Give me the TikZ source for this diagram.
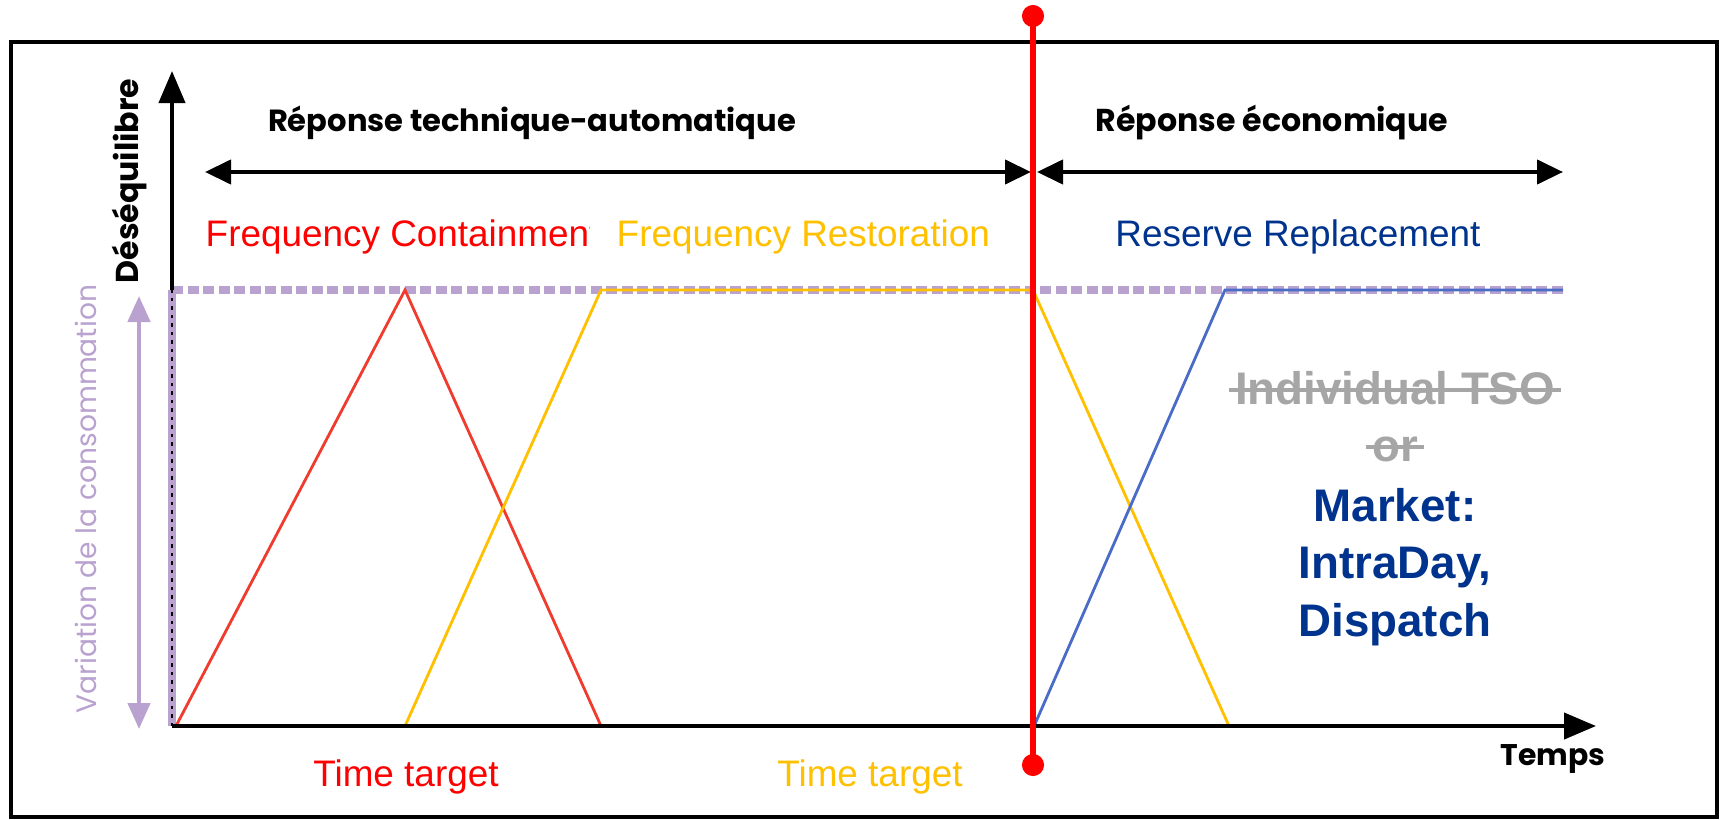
\documentclass[tikz,border=0pt]{standalone}
\usepackage{fontspec}
\setmainfont{Liberation Sans}
\newfontfamily\geofont{Poppins}
\usetikzlibrary{arrows.meta}

\definecolor{fcred}{HTML}{FF0000}
\definecolor{fcline}{HTML}{F03C2E}
\definecolor{fryellow}{HTML}{FFC000}
\definecolor{rrnavy}{HTML}{00338D}
\definecolor{rrblue}{HTML}{4A6BC6}
\definecolor{lilac}{HTML}{B9A2D0}
\definecolor{tsogray}{HTML}{A6A6A6}

\tikzset{
  axis/.style={line width=1.2pt, -{Triangle[width=2.6mm,length=3.2mm]}},
  span/.style={line width=1.2pt, {Triangle[width=2.4mm,length=2.6mm]}-{Triangle[width=2.4mm,length=2.6mm]}},
  level/.style={lilac, line width=2pt, dash pattern=on 1.1mm off 0.45mm},
  ramp/.style={line width=0.8pt},
  label/.style={inner sep=0pt, font=\fontsize{10.5}{12}\selectfont},
  head/.style={inner sep=0pt, font=\geofont\bfseries\fontsize{9}{11}\selectfont},
  market/.style={inner sep=0pt, font=\bfseries\fontsize{13}{16}\selectfont}
}

\begin{document}
\begin{tikzpicture}
\useasboundingbox (0,0) rectangle (17.2,8.19);
\draw[line width=1pt] (0.11,0.02) rectangle (17.17,7.77);

% key points of the chart
\coordinate (O) at (1.72,0.93);
\coordinate (ytop) at (1.72,7.48);
\coordinate (xend) at (15.96,0.93);
\coordinate (lvl) at (1.72,5.29);
\coordinate (lvlend) at (15.63,5.29);

% consumption level
\draw[level] (lvl) -- (lvlend);
\draw[lilac, line width=2pt] (O) -- (lvl);
\draw[line width=0.6pt, dash pattern=on 0.35mm off 0.5mm] (O) -- (lvl);
\draw[lilac, line width=1.3pt, {Triangle[width=2.2mm,length=2.6mm]}-{Triangle[width=2.2mm,length=2.6mm]}]
  (1.39,5.23) -- (1.39,0.90);
\node[lilac, rotate=90, inner sep=0pt] (varcons) at (0.86,3.20)
  {\geofont\fontsize{8}{10}\selectfont Variation de la consommation};

% reserves
\draw[fcline, ramp] (1.76,0.93) -- (4.05,5.29) -- (6.01,0.93);
\draw[fryellow, ramp] (4.05,0.93) -- (6.01,5.29) -- (10.33,5.29) -- (12.29,0.93);
\draw[rrblue, ramp] (10.35,0.95) -- (12.25,5.29) -- (lvlend);

% axes
\draw[axis] (O) -- (xend);
\draw[axis] (lvl) -- (ytop);
\node[head, rotate=90] (deseq) at (1.30,6.38) {Déséquilibre};
\node[head, font=\geofont\bfseries\fontsize{8.5}{10}\selectfont] (temps) at (15.53,0.60) {Temps};

% response spans
\draw[span] (2.05,6.47) -- (10.31,6.47);
\draw[span] (10.37,6.47) -- (15.63,6.47);
\node[head, font=\geofont\bfseries\fontsize{8.7}{10}\selectfont] (tech) at (5.32,6.96) {Réponse technique-automatique};
\node[head] (eco) at (12.72,6.96) {Réponse économique};

\begin{scope}
  \clip (2.0,5.4) rectangle (5.895,6.3);
  \node[label, fcred, anchor=base west] (fcr) at (2.05,5.73) {Frequency Containment};
\end{scope}
\node[label, fryellow, anchor=base west] (frr) at (6.16,5.73) {Frequency Restoration};
\node[label, rrnavy, anchor=base] (rr) at (12.98,5.73) {Reserve Replacement};

\node[label, fcred, anchor=base] (fctime) at (4.06,0.33) {Time target};
\node[label, fryellow, anchor=base] (frtime) at (8.70,0.33) {Time target};

% gate closure
\coordinate (gtop) at (10.33,8.14);
\coordinate (gbot) at (10.33,0.43);
\draw[fcred, line width=1.8pt, {Circle[length=2.2mm]}-{Circle[length=2.2mm]}] (gtop) -- (gbot);

% who activates
\node[market, tsogray, anchor=base] (tso) at (13.95,4.15) {Individual TSO};
\draw[tsogray, line width=1.1pt] ([xshift=-0.5mm,yshift=1.4mm]tso.base west) -- ([xshift=0.5mm,yshift=1.4mm]tso.base east);
\node[market, tsogray, anchor=base] (or) at (13.95,3.58) {or};
\draw[tsogray, line width=1.1pt] ([xshift=-0.5mm,yshift=1.4mm]or.base west) -- ([xshift=0.5mm,yshift=1.4mm]or.base east);
\node[market, rrnavy, anchor=base] (mkt) at (13.95,2.98) {Market:};
\node[market, rrnavy, anchor=base] (intra) at (13.95,2.41) {IntraDay,};
\node[market, rrnavy, anchor=base] (disp) at (13.95,1.83) {Dispatch};
\end{tikzpicture}
\end{document}
